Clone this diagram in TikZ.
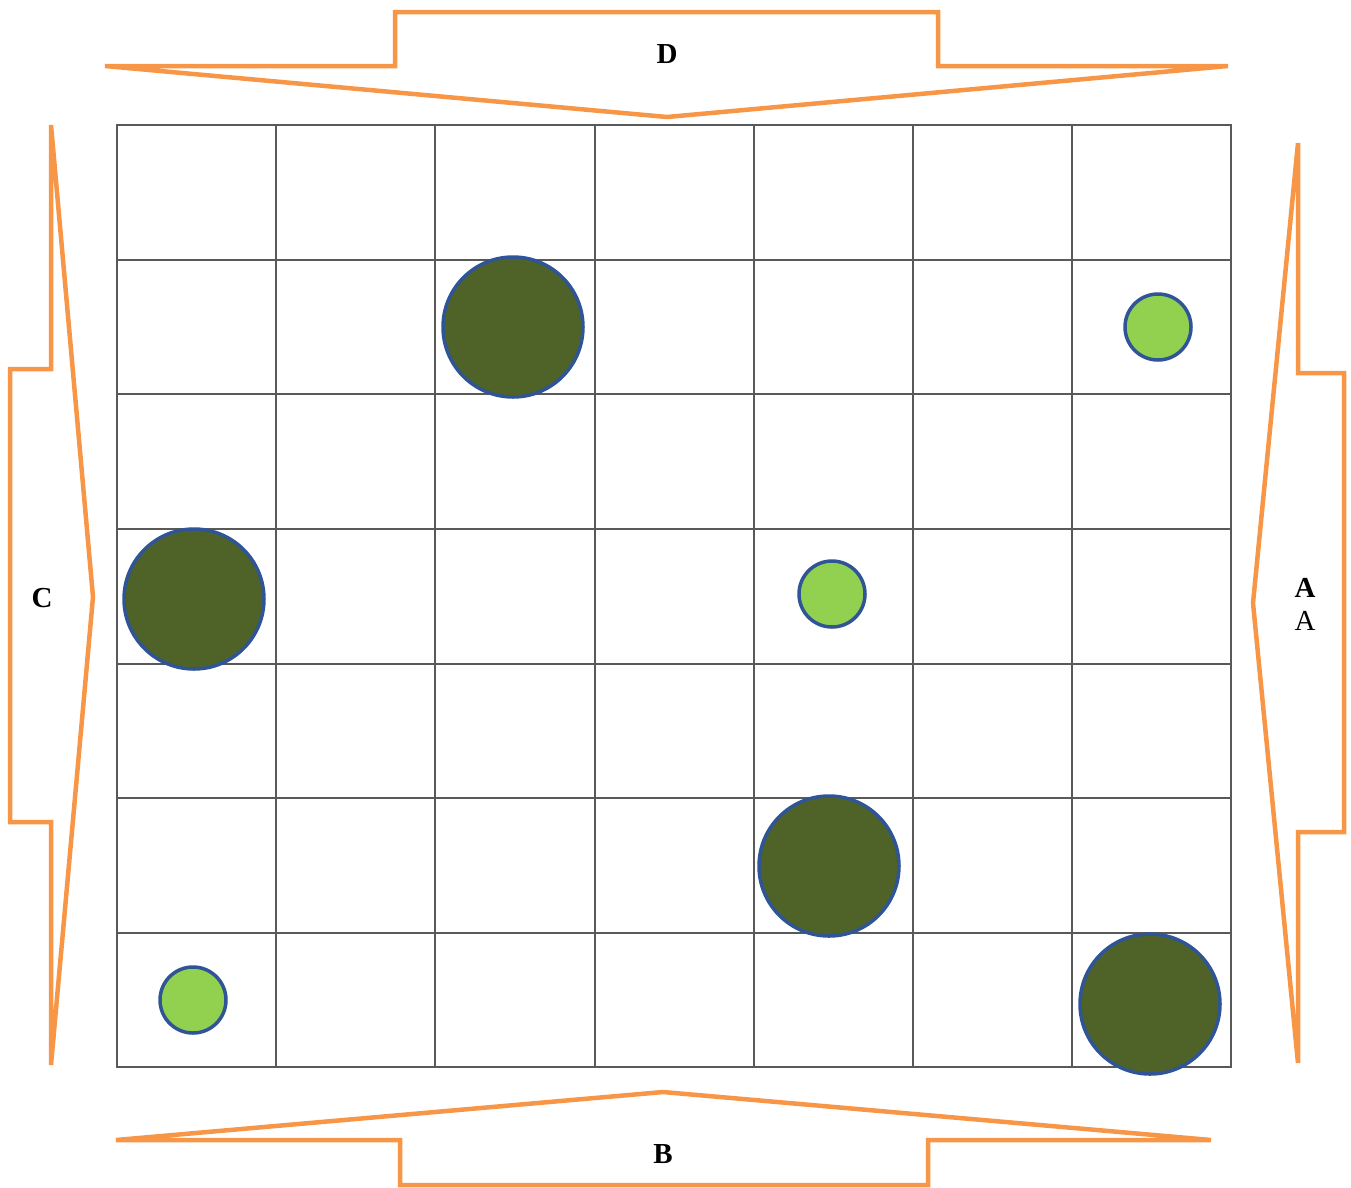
\documentclass[tikz,border=0pt]{standalone}
\usepackage{fontspec}
\setmainfont{Liberation Serif}
\definecolor{orng}{HTML}{F79646}
\definecolor{darkg}{HTML}{4F6228}
\definecolor{lightg}{HTML}{92D050}
\definecolor{rim}{HTML}{2F5597}
\definecolor{gridc}{HTML}{595959}
\begin{document}
\begin{tikzpicture}[x=1pt,y=-1pt,
  arrowshape/.style={draw=orng,line width=4.5pt,line join=miter,miter limit=4},
  bigdot/.style={circle,draw=rim,line width=3.5pt,fill=darkg,minimum size=140pt,inner sep=0pt},
  smalldot/.style={circle,draw=rim,line width=3.5pt,fill=lightg,minimum size=66pt,inner sep=0pt},
  lbl/.style={font=\fontsize{29}{33}\selectfont\bfseries,inner sep=0pt,align=center}]
\useasboundingbox (0,0) rectangle (1351,1187);
% grid
\draw[gridc,line width=1.5pt] (117,125) rectangle (1231,1067);
\foreach \x in {276,435,595,754,913,1072} \draw[gridc,line width=1.5pt] (\x,125) -- (\x,1067);
\foreach \y in {260,394,529,664,798,933} \draw[gridc,line width=1.5pt] (117,\y) -- (1231,\y);
% arrow shapes
\draw[arrowshape] (105,66) -- (395,66) -- (395,12) -- (938,12) -- (938,66) -- (1228,66) -- (667,117) -- cycle;
\draw[arrowshape] (116,1140) -- (400,1140) -- (400,1185) -- (928,1185) -- (928,1140) -- (1211,1140) -- (663,1092) -- cycle;
\draw[arrowshape] (51,125) -- (51,369) -- (10,369) -- (10,822) -- (51,822) -- (51,1065) -- (93,597) -- cycle;
\draw[arrowshape] (1298,143) -- (1298,373) -- (1344,373) -- (1344,832) -- (1298,832) -- (1298,1063) -- (1253,603) -- cycle;
% circles
\node[bigdot] (d1) at (513,327) {};
\node[bigdot] (d2) at (194,599) {};
\node[bigdot] (d3) at (829,866) {};
\node[bigdot] (d4) at (1150,1004) {};
\node[smalldot] (l1) at (1158,327) {};
\node[smalldot] (l2) at (832,594) {};
\node[smalldot] (l3) at (193,1000) {};
% labels
\node[lbl] (tD) at (667,54) {D};
\node[lbl] (tC) at (42,598) {C};
\node[lbl] (tB) at (663,1154) {B};
\node[lbl] (tA) at (1305,604) {A\\\normalfont\fontsize{29}{33}\selectfont A};
\end{tikzpicture}
\end{document}
